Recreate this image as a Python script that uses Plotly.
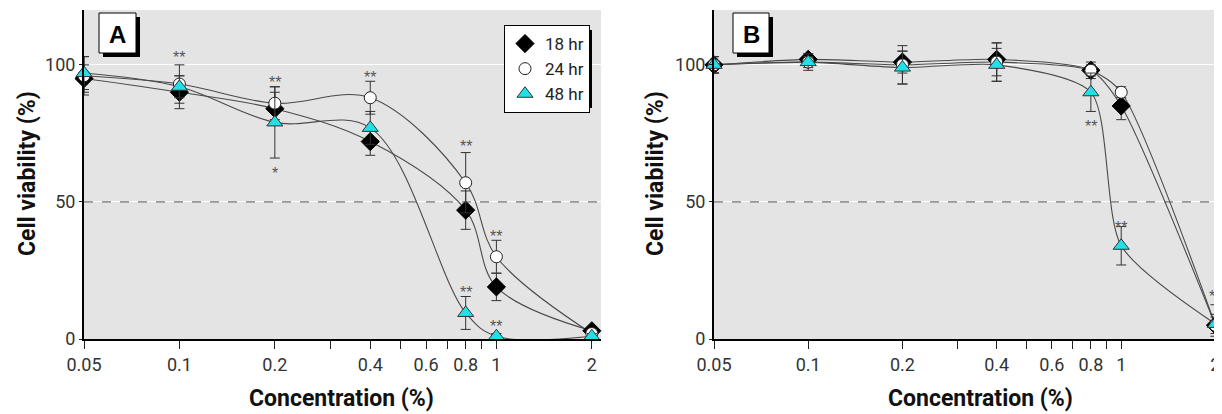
import math
import plotly.graph_objects as go

# ---------------- data ----------------
conc = [0.05, 0.1, 0.2, 0.4, 0.8, 1, 2]

# Panel A
a18 = [95, 90, 84, 72, 47, 19, 3]
a18_err = [5, 6, 6, 5, 7, 5, 1]
a24 = [96, 93, 86, 88, 57, 30, 2]
a24_err = [7, 7, 6, 6, 11, 6, 1]
a48 = [97, 92, 79, 77, 9.5, 1, 1]
a48_err = [6, 4, 13, 6, 6, 1, 1]

# Panel B
b18 = [100, 102, 101, 102, 98, 85, 5]
b18_err = [3, 2, 4, 6, 3, 5, 3]
b24 = [100, 101, 100, 101, 98, 90, 5]
b24_err = [3, 2, 7, 7, 2, 2, 4]
b48 = [100, 101, 99, 100, 90, 34, 5.5]
b48_err = [3, 3, 6, 6, 7, 7, 7]

# significance marks
starsA_x = [0.1, 0.2, 0.2, 0.4, 0.8, 0.8, 1, 1]
starsA_y = [104, 95, 62, 97, 71.5, 18.6, 39, 6.2]
starsA_t = ["**", "**", "*", "**", "**", "**", "**", "**"]
starsB_x = [0.8, 1, 2]
starsB_y = [79, 42, 17]
starsB_t = ["**", "**", "**"]

x_tickvals = [0.05, 0.1, 0.2, 0.3, 0.4, 0.5, 0.6, 0.7, 0.8, 0.9, 1, 2]
x_ticktext = ["0.05", "0.1", "0.2", "", "0.4", "", "0.6", "", "0.8", "", "1", "2"]
y_tickvals = [0, 50, 100]
series_names = ["18 hr", "24 hr", "48 hr"]

# ---------------- styling ----------------
W, H = 1222, 414
FONT = "Roboto, Liberation Sans, Arial, sans-serif"
BG = "#e4e4e4"
CYAN = "#22e0e8"
LINE = "#4a4a4a"

styles = [
    dict(symbol="diamond", size=14, color="black", line=dict(color="black", width=1)),
    dict(symbol="circle", size=12, color="white", line=dict(color="#222", width=1)),
    dict(symbol="triangle-up", size=14, color=CYAN, line=dict(color="#333", width=1)),
]

fig = go.Figure()

panels = [
    ("x", "y", [a18, a24, a48], [a18_err, a24_err, a48_err], True, 1.0),
    ("x2", "y2", [b18, b24, b48], [b18_err, b24_err, b48_err], False, 0.7),
]

for xa, ya, vals, errs, legend, sm in panels:
    for v in vals:
        fig.add_trace(go.Scatter(
            x=conc, y=v, xaxis=xa, yaxis=ya, mode="lines",
            line=dict(color=LINE, width=1.1, shape="spline", smoothing=sm),
            showlegend=False, hoverinfo="skip", cliponaxis=False))
for xa, ya, vals, errs, legend, sm in panels:
    for i, (v, e) in enumerate(zip(vals, errs)):
        fig.add_trace(go.Scatter(
            x=conc, y=v, xaxis=xa, yaxis=ya, mode="markers",
            marker=styles[i], name=series_names[i], showlegend=legend,
            error_y=dict(type="data", array=e, visible=True, color="#333",
                         thickness=1, width=5),
            cliponaxis=False))

# screen pixel -> paper helpers (page body offsets the figure by 8px)
OFF = 8
T = 10 - OFF
PLOT_BOTTOM = 339 - OFF
B = H - PLOT_BOTTOM
PH = PLOT_BOTTOM - T
def px(x):
    return (x - OFF) / W
def py(y):
    return (339 - y) / PH

axis_common = dict(
    type="log", showgrid=False, zeroline=False, showline=True, automargin=False,
    linecolor="black", linewidth=2, ticks="outside", ticklen=8,
    tickcolor="#222", tickwidth=1,
    tickvals=x_tickvals, ticktext=x_ticktext,
    tickfont=dict(family=FONT, size=18, color="#333"),
)
yaxis_common = dict(
    range=[0, 120], showgrid=True, gridcolor="white", gridwidth=1, automargin=False,
    zeroline=False, showline=True, linecolor="black", linewidth=2,
    ticks="outside", ticklen=3, tickcolor="#222",
    tickvals=y_tickvals, tickfont=dict(family=FONT, size=18, color="#333"),
)

fig.update_layout(
    width=W, height=H,
    margin=dict(l=0, r=0, t=T, b=B, autoexpand=False),
    paper_bgcolor="white", plot_bgcolor=BG,
    xaxis=dict(domain=[px(84), px(601)], range=[math.log10(0.05), 0.330],
               anchor="y", **axis_common),
    yaxis=dict(domain=[0, 1], anchor="x", **yaxis_common),
    xaxis2=dict(domain=[px(714), 1.0], range=[math.log10(0.05), 0.3476],
                anchor="y2", **axis_common),
    yaxis2=dict(domain=[0, 1], anchor="x2", **yaxis_common),
    showlegend=True,
    legend=dict(x=px(504), y=py(25), xanchor="left", yanchor="top",
                bgcolor="white", bordercolor="black", borderwidth=1,
                font=dict(family=FONT, size=17, color="#222"),
                tracegroupgap=0, itemwidth=30),
)

shapes = []
for xr, yr in [("x domain", "y"), ("x2 domain", "y2")]:
    shapes.append(dict(type="line", xref=xr, yref=yr, x0=0, x1=1, y0=50, y1=50,
                       line=dict(color="#555", width=1, dash="dash"), layer="above"))
# legend drop shadow
shapes.append(dict(type="rect", xref="paper", yref="paper",
                   x0=px(508), x1=px(592), y0=py(30), y1=py(108),
                   fillcolor="black", line=dict(width=0), layer="above"))
for x0, x1 in [(99, 136), (733, 769)]:
    shapes.append(dict(type="rect", xref="paper", yref="paper",
                       x0=px(x0 + 4), x1=px(x1 + 4), y0=py(17), y1=py(57),
                       fillcolor="black", line=dict(width=0), layer="above"))
    shapes.append(dict(type="rect", xref="paper", yref="paper",
                       x0=px(x0), x1=px(x1), y0=py(13), y1=py(53),
                       fillcolor="white", line=dict(color="black", width=1), layer="above"))
fig.update_layout(shapes=shapes)

def centered(**kw):
    kw.update(showarrow=False, xanchor="center", yanchor="middle")
    return kw

ann = []
for letter, cx in [("A", 117.5), ("B", 751)]:
    ann.append(centered(text="<b>%s</b>" % letter, xref="paper", yref="paper",
                        x=px(cx), y=py(34),
                        font=dict(family="Liberation Sans, Arial, sans-serif", size=24, color="black")))
for cx in [27, 655]:
    ann.append(centered(text="<b>Cell viability (%)</b>", xref="paper", yref="paper",
                        x=px(cx), y=py(174), textangle=-90,
                        font=dict(family=FONT, size=23, color="#111")))
for cx in [341, 980]:
    ann.append(centered(text="<b>Concentration (%)</b>", xref="paper", yref="paper",
                        x=px(cx), y=py(398),
                        font=dict(family=FONT, size=23, color="#111")))
for sx, sy, st in zip(starsA_x, starsA_y, starsA_t):
    ann.append(centered(text=st, xref="x", yref="y", x=math.log10(sx), y=sy, yshift=-4,
                        font=dict(family="Liberation Sans, Arial, sans-serif", size=16, color="#555")))
for sx, sy, st in zip(starsB_x, starsB_y, starsB_t):
    ann.append(centered(text=st, xref="x2", yref="y2", x=math.log10(sx), y=sy, yshift=-4,
                        font=dict(family="Liberation Sans, Arial, sans-serif", size=16, color="#555")))
fig.update_layout(annotations=ann)

fig.write_html("out.html")
